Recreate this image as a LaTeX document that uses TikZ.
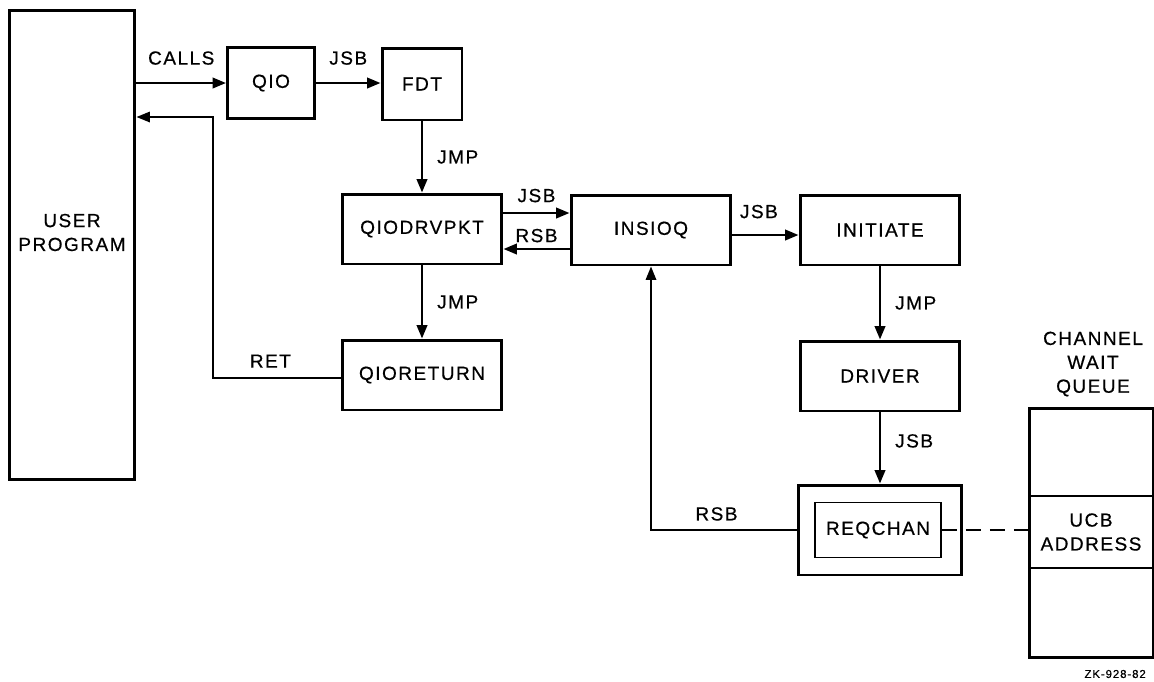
\documentclass[tikz,border=0pt]{standalone}
\usepackage{fontspec}
\setmainfont{Liberation Sans}[LetterSpace=8,FakeBold=0.6]
\usetikzlibrary{arrows.meta}
\begin{document}
\begin{tikzpicture}[x=0.02cm,y=-0.02cm,>={Triangle[length=0.27cm,width=0.21cm]},
  every node/.style={font=\fontsize{10.8}{13.6}\selectfont},
  box/.style={draw,line width=1.7pt,inner sep=0pt},
  pkt/.style={box,minimum width=3.2cm,minimum height=1.4cm},
  link/.style={line width=1.4pt},
  back/.style={line width=1pt},
  tag/.style={inner sep=0pt}]
  \useasboundingbox (0,0) rectangle (1154,681);
  % user program and the QIO path
  \node[box,minimum width=2.52cm,minimum height=9.4cm,
    label={[align=center,yshift=0.25cm]center:USER\\PROGRAM}] (user) at (72,245) {};
  \node[box,minimum width=1.74cm,minimum height=1.42cm] (qio) at (271,83) {QIO};
  \node[box,minimum width=1.6cm,minimum height=1.44cm] (fdt) at (422,84) {FDT};
  \node[pkt] (drvpkt) at (422,229) {QIODRVPKT};
  \node[pkt] (qioret) at (422,375) {QIORETURN};
  \node[pkt] (insioq) at (651,230) {INSIOQ};
  \node[pkt] (initiate) at (880,230) {INITIATE};
  \node[pkt] (driver) at (880,376) {DRIVER};
  \node[box,minimum width=3.28cm,minimum height=1.8cm] (reqout) at (880,530) {};
  \node[draw,line width=1.1pt,minimum width=2.52cm,minimum height=1.1cm] (reqchan) at (878,530) {REQCHAN};
  % channel wait queue
  \node[box,minimum width=2.48cm,minimum height=5cm] (queue) at (1091,533) {};
  \node[align=center,minimum width=2.48cm,minimum height=1.42cm,inner sep=0pt] (ucb) at (1091,532) {UCB\\ADDRESS};
  \draw[back] (ucb.north west) -- (ucb.north east) (ucb.south west) -- (ucb.south east);
  \node[align=center] (chq) at (1093,364) {CHANNEL\\WAIT\\QUEUE};
  \node[anchor=east,font=\fontsize{6.5}{8}\selectfont] (zk) at (1152,674) {ZK-928-82};
  % connectors
  \draw[link,->] (user.east |- qio.west) -- node[midway,above=0.34cm,tag] {CALLS} (qio.west);
  \draw[link,->] (qio.east) -- node[midway,above=0.34cm,tag] {JSB} (qio.east -| fdt.west);
  \draw[link,->] (fdt.south) -- node[midway,right=0.28cm,tag] {JMP} (drvpkt.north);
  \draw[link,->] ([yshift=0.32cm]drvpkt.east) -- node[midway,above=0.19cm,tag] {JSB} ([yshift=0.32cm]drvpkt.east -| insioq.west);
  \draw[link,->] ([yshift=-0.38cm]insioq.west) -- node[midway,above=0.11cm,tag] {RSB} ([yshift=-0.38cm]insioq.west -| drvpkt.east);
  \draw[link,->] (drvpkt.south) -- node[midway,right=0.28cm,tag] {JMP} (qioret.north);
  \draw[link,->] ([yshift=-0.1cm]insioq.east) -- node[pos=0.4,above=0.31cm,tag] {JSB} ([yshift=-0.1cm]insioq.east -| initiate.west);
  \draw[link,->] (initiate.south) -- node[midway,right=0.28cm,tag] {JMP} (driver.north);
  \draw[link,->] (driver.south) -- node[pos=0.4,right=0.28cm,tag] {JSB} (reqout.north);
  \coordinate (retup) at (213,117);
  \draw[back,->] ([yshift=-0.06cm]qioret.west) -- node[pos=0.55,above=0.19cm,tag] {RET} ([yshift=-0.06cm]qioret.west -| retup) -- (retup) -- (user.east |- retup);
  \draw[back,->] (reqout.west) -- node[pos=0.55,above=0.17cm,tag] {RSB} (reqout.west -| insioq.south) -- (insioq.south);
  \draw[back,dash pattern=on 0.3cm off 0.18cm] (reqchan.east) -- (reqchan.east -| queue.west);
\end{tikzpicture}
\end{document}
